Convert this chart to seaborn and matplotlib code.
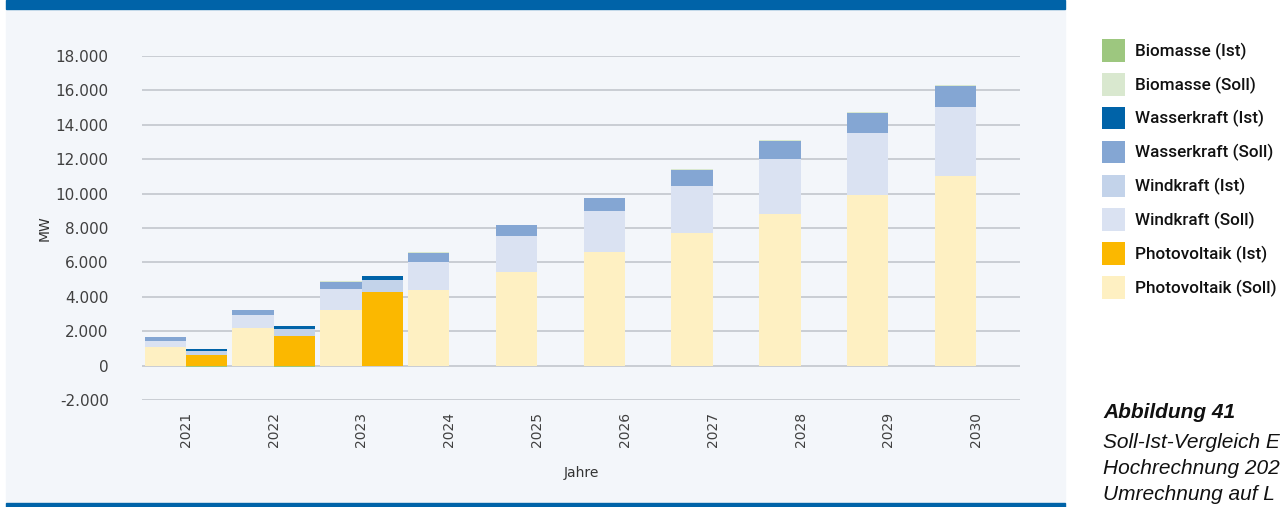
import matplotlib.pyplot as plt
from matplotlib.patches import Patch, Rectangle
import numpy as np
import pandas as pd
import seaborn as sns

# Werte (MW)
jahre = ["2021", "2022", "2023", "2024", "2025", "2026", "2027", "2028", "2029", "2030"]
pv_soll = [1100, 2200, 3250, 4370, 5450, 6580, 7700, 8810, 9890, 11030]
wind_soll = [350, 760, 1220, 1670, 2060, 2400, 2750, 3210, 3640, 4010]
wasser_soll = [220, 290, 410, 520, 640, 760, 930, 1040, 1160, 1220]
bio_soll = [10, 10, 20, 20, 20, 30, 30, 40, 40, 50]

ist_jahre = ["2021", "2022", "2023"]
pv_ist = [640, 1700, 4280]
wind_ist = [190, 430, 670]
wasser_ist = [160, 190, 240]
bio_ist = [-60, -80, 0]

farben = {
    "Biomasse (Ist)": "#9dc77f",
    "Biomasse (Soll)": "#d9e8cf",
    "Wasserkraft (Ist)": "#0063a8",
    "Wasserkraft (Soll)": "#84a6d3",
    "Windkraft (Ist)": "#c3d3ea",
    "Windkraft (Soll)": "#dae2f2",
    "Photovoltaik (Ist)": "#fbb800",
    "Photovoltaik (Soll)": "#fef0c2",
}

rows = []
for i, j in enumerate(jahre):
    rows.append(dict(Jahr=j, Art="Soll", PV=pv_soll[i], Wind=wind_soll[i], Wasser=wasser_soll[i], Bio=bio_soll[i]))
for i, j in enumerate(ist_jahre):
    rows.append(dict(Jahr=j, Art="Ist", PV=pv_ist[i], Wind=wind_ist[i], Wasser=wasser_ist[i], Bio=bio_ist[i]))
df = pd.DataFrame(rows)
df["bio_neg"] = df["Bio"].clip(upper=0)
df["k_pv"] = df["PV"]
df["k_wind"] = df["k_pv"] + df["Wind"]
df["k_wasser"] = df["k_wind"] + df["Wasser"]
df["k_bio"] = df["k_wasser"] + df["Bio"].clip(lower=0)

sns.set_style("white")
W, H = 1284, 507
fig = plt.figure(figsize=(W / 100, H / 100), dpi=100)

# Hintergrund-Panel und blaue Balken
blau = "#0063a8"
fig.add_artist(Rectangle((6 / W, 4 / H), 1059 / W, 494 / H, transform=fig.transFigure, color="#f3f6fa", zorder=0))
fig.add_artist(Rectangle((6 / W, 498 / H), 1059 / W, 9 / H, transform=fig.transFigure, color=blau, zorder=0))
fig.add_artist(Rectangle((6 / W, 0), 1059 / W, 4 / H, transform=fig.transFigure, color=blau, zorder=0))

ax = fig.add_axes([142 / W, 1 - 400 / H, 878 / W, 344 / H])
ax.patch.set_alpha(0)
ax.set_axisbelow(True)

# gestapelte Balken über kumulierte Summen (von oben nach unten gezeichnet)
schichten = [("k_bio", "Biomasse"), ("k_wasser", "Wasserkraft"), ("k_wind", "Windkraft"),
             ("k_pv", "Photovoltaik"), ("bio_neg", "Biomasse")]
for col, name in schichten:
    sns.barplot(data=df, x="Jahr", y=col, hue="Art", order=jahre, hue_order=["Soll", "Ist"],
                palette={"Soll": farben[name + " (Soll)"], "Ist": farben[name + " (Ist)"]},
                width=0.94, dodge=True, errorbar=None, saturation=1, linewidth=0,
                legend=False, ax=ax)

grid_col = "#c6cad1"
ax.set_ylim(-2000, 18000)
ax.set_xlim(-0.5, 9.5)
yt = np.arange(-2000, 18001, 2000)
ax.set_yticks(yt)
ax.set_yticklabels([f"{v:,}".replace(",", ".") for v in yt])
ax.yaxis.grid(True, color=grid_col, lw=1.3)
ax.xaxis.grid(False)
for s in ax.spines.values():
    s.set_visible(False)

ax.set_xticks(range(len(jahre)))
ax.set_xticklabels(jahre, rotation=90)
ax.set_xticks(np.arange(-0.5, 10, 1), minor=True)
ax.tick_params(axis="x", which="major", length=0, pad=8.5, labelsize=10, labelcolor="#404040")
ax.tick_params(axis="x", which="minor", length=4, width=1, color=grid_col, direction="out")
ax.tick_params(axis="y", length=0, pad=24, labelsize=11, labelcolor="#404040")

ax.set_xlabel("Jahre", fontsize=10, color="#333333", labelpad=14)
ax.set_ylabel("MW", fontsize=10, color="#333333")
ax.yaxis.set_label_coords(-0.103, 0.5)

# Legende
handles = [Patch(facecolor=c, edgecolor="none") for c in farben.values()]
fig.legend(handles, list(farben.keys()), loc="upper left", bbox_to_anchor=(1102 / W, 1 - 39 / H),
           frameon=False, prop={"family": "Roboto", "weight": "medium", "size": 12.3},
           labelcolor="#111111", handlelength=1.34, handleheight=1.66, labelspacing=0.66,
           handletextpad=0.62, borderaxespad=0, borderpad=0)

# Bildunterschrift (im Original rechts und unten abgeschnitten)
cap = dict(family="Liberation Sans", style="italic", size=15, va="center", ha="left", color="#111111")
fig.text(1103 / W, 1 - 413 / H, "Abbildung 41", weight="bold", **cap)
fig.text(1103 / W, 1 - 443 / H, "Soll-Ist-Vergleich E", **cap)
fig.text(1103 / W, 1 - 469 / H, "Hochrechnung 202", **cap)
fig.text(1103 / W, 1 - 495 / H, "Umrechnung auf L", **cap)

fig.savefig("out.png", dpi=100)
